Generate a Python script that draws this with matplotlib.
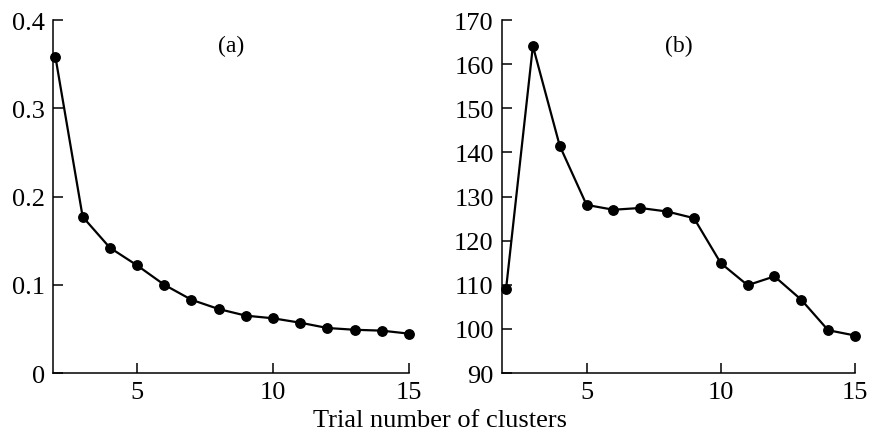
import matplotlib.pyplot as plt

plt.rcParams['font.family'] = ['Liberation Serif', 'DejaVu Serif']

clusters = [2, 3, 4, 5, 6, 7, 8, 9, 10, 11, 12, 13, 14, 15]
vals_a = [0.358, 0.177, 0.142, 0.122, 0.100, 0.083, 0.0725, 0.065, 0.062,
          0.057, 0.051, 0.049, 0.048, 0.0446]
vals_b = [109.0, 164.1, 141.5, 128.1, 127.0, 127.4, 126.6, 125.1, 114.9,
          109.9, 111.9, 106.6, 99.7, 98.5]

fig = plt.figure(figsize=(8.72, 4.35), dpi=100)
ax1 = fig.add_axes([0.0611, 0.1402, 0.408, 0.8115])
ax2 = fig.add_axes([0.5757, 0.1402, 0.4048, 0.8115])

for ax, vals in ((ax1, vals_a), (ax2, vals_b)):
    ax.plot(clusters, vals, color='black', lw=1.6, marker='o', ms=6.8,
            clip_on=False, zorder=3)
    ax.spines['top'].set_visible(False)
    ax.spines['right'].set_visible(False)
    ax.spines['left'].set_linewidth(1.1)
    ax.spines['bottom'].set_linewidth(1.1)
    ax.set_xticks([5, 10, 15])
    ax.tick_params(direction='in', length=7, width=1.1, labelsize=19,
                   pad=6)

ax1.set_xlim(1.92, 15)
ax1.set_ylim(0, 0.4)
ax1.set_yticks([0, 0.1, 0.2, 0.3, 0.4])
ax1.set_yticklabels(['0', '0.1', '0.2', '0.3', '0.4'])
ax1.text(0.499, 0.929, '(a)', transform=ax1.transAxes, fontsize=17,
         ha='center', va='center')

ax2.set_xlim(1.85, 15)
ax2.set_ylim(90, 170)
ax2.set_yticks(range(90, 171, 10))
ax2.text(0.50, 0.929, '(b)', transform=ax2.transAxes, fontsize=17,
         ha='center', va='center')

fig.text(0.505, 0.019, 'Trial number of clusters', fontsize=19,
         ha='center', va='baseline')

fig.savefig('out.png', dpi=100)
